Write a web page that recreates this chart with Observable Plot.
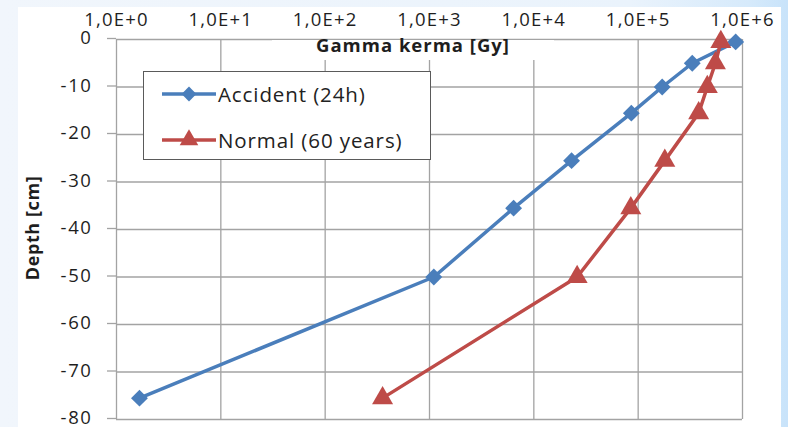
<!DOCTYPE html>
<html>
<head>
<meta charset="utf-8">
<script src="https://cdn.jsdelivr.net/npm/d3@7"></script>
<script src="https://cdn.jsdelivr.net/npm/@observablehq/plot@0.6"></script>
<style>
  html, body { margin: 0; padding: 0; }
  body { width: 788px; height: 427px; overflow: hidden; font-family: "Open Sans", sans-serif; }
  #wrap {
    position: relative; width: 788px; height: 427px;
    background:
      linear-gradient(#fff, #fff) 18px 7px / 763px 420px no-repeat,
      linear-gradient(to right, #f1f6fc 0%, #eaf3fc 80%, #d6eafb 95%, #c8e3fa 100%);
  }
  #legend {
    position: absolute; left: 143px; top: 71px; width: 286px; height: 87px;
    background: #fff; border: 1.3px solid #5a5a5a;
  }
  #legend .row { position: absolute; left: 0; height: 26px; display: flex; align-items: center; }
  #legend .row span { font-size: 20.5px; color: #222; letter-spacing: 0.9px; margin-left: 1px; }
  .xax text { letter-spacing: 1.2px; }
  .yax text { letter-spacing: 1.6px; }
</style>
</head>
<body>
<div id="wrap"><div id="chart"></div>
<div id="legend"></div></div>
<script>
// ---- data ----
const depths   = [-0.5, -5, -10, -15.5, -25.5, -35.5, -50, -75.5];
const accident = [8.6e5, 3.3e5, 1.7e5, 8.6e4, 2.3e4, 6.4e3, 1.1e3, 1.66];
const normal   = [6.2e5, 5.5e5, 4.6e5, 3.8e5, 1.8e5, 8.5e4, 2.6e4, 355];
const seriesNames = ["Accident (24h)", "Normal (60 years)"];
const xTicks = [1, 10, 100, 1000, 10000, 100000, 1000000];
const yTicks = [0, -10, -20, -30, -40, -50, -60, -70, -80];
const xTitle = "Gamma kerma [Gy]";
const yTitle = "Depth [cm]";

const blue = "#4a7ebb", red = "#be4b48", grid = "#a3a3a3", ink = "#1e1e1e";

const rows = [];
depths.forEach((d, i) => {
  rows.push({series: seriesNames[0], depth: d, dose: accident[i]});
  rows.push({series: seriesNames[1], depth: d, dose: normal[i]});
});
const accRows = rows.filter(r => r.series === seriesNames[0]);
const norRows = rows.filter(r => r.series === seriesNames[1]);

const chart = Plot.plot({
  width: 788, height: 427,
  marginLeft: 116, marginRight: 46, marginTop: 39, marginBottom: 8,
  style: {fontFamily: "'Open Sans', sans-serif", background: "transparent", color: ink},
  x: {type: "log", domain: [1, 1e6]},
  y: {domain: [-80, 0]},
  marks: [
    Plot.gridX(xTicks, {stroke: grid, strokeOpacity: 1, strokeWidth: 1.3}),
    Plot.gridY(yTicks, {stroke: grid, strokeOpacity: 1, strokeWidth: 1.3}),
    Plot.axisX(xTicks, {anchor: "top", tickSize: 0, tickPadding: 14, fontSize: 18.5, fill: ink, className: "xax",
      tickFormat: d => "1,0E+" + Math.round(Math.log10(d)), label: null}),
    Plot.axisY(yTicks, {anchor: "left", tickSize: 9, tickPadding: 15, fontSize: 18.5, stroke: grid, strokeWidth: 1.3, fill: ink, className: "yax",
      tickFormat: d => String(d), dy: -1, label: null}),
    Plot.line(accRows, {x: "dose", y: "depth", stroke: blue, strokeWidth: 3.5}),
    Plot.line(norRows, {x: "dose", y: "depth", stroke: red, strokeWidth: 3.5}),
    Plot.dot(accRows, {x: "dose", y: "depth", symbol: "diamond2", r: 7.6, fill: blue, stroke: "none"}),
    Plot.dot(norRows, {x: "dose", y: "depth", symbol: "triangle", r: 7.8, fill: red, stroke: "none"})
  ]
});
document.getElementById("chart").appendChild(chart);

// axis titles
const svg = d3.select(chart);
const xt = svg.append("g");
const xtRect = xt.append("rect").attr("fill", "#fff");
const xtText = xt.append("text")
  .attr("x", 413).attr("y", 52)
  .attr("text-anchor", "middle").attr("font-weight", "bold").attr("font-size", 18.5)
  .attr("fill", ink).style("letter-spacing", "1px").text(xTitle);
const bb = xtText.node().getBBox();
xtRect.attr("x", bb.x - 44).attr("y", 40).attr("width", bb.width + 88).attr("height", 20);

svg.append("text")
  .attr("transform", "translate(39,228) rotate(-90)")
  .attr("text-anchor", "middle").attr("font-weight", "bold").attr("font-size", 18)
  .attr("fill", ink).style("letter-spacing", "0.6px").text(yTitle);

// legend
const legend = document.getElementById("legend");
const entries = [
  {name: seriesNames[0], color: blue, symbol: d3.symbolDiamond2, size: 140, top: 9},
  {name: seriesNames[1], color: red, symbol: d3.symbolTriangle, size: 150, top: 55}
];
for (const e of entries) {
  const row = document.createElement("div");
  row.className = "row";
  row.style.top = e.top + "px";
  row.style.left = "17px";
  const s = d3.create("svg").attr("width", 56).attr("height", 26);
  s.append("line").attr("x1", 1).attr("x2", 55).attr("y1", 13).attr("y2", 13)
    .attr("stroke", e.color).attr("stroke-width", 3.5);
  s.append("path").attr("d", d3.symbol(e.symbol, e.size)()).attr("transform", "translate(28,13)")
    .attr("fill", e.color);
  row.appendChild(s.node());
  const t = document.createElement("span");
  t.textContent = e.name;
  row.appendChild(t);
  legend.appendChild(row);
}
</script>
</body>
</html>
